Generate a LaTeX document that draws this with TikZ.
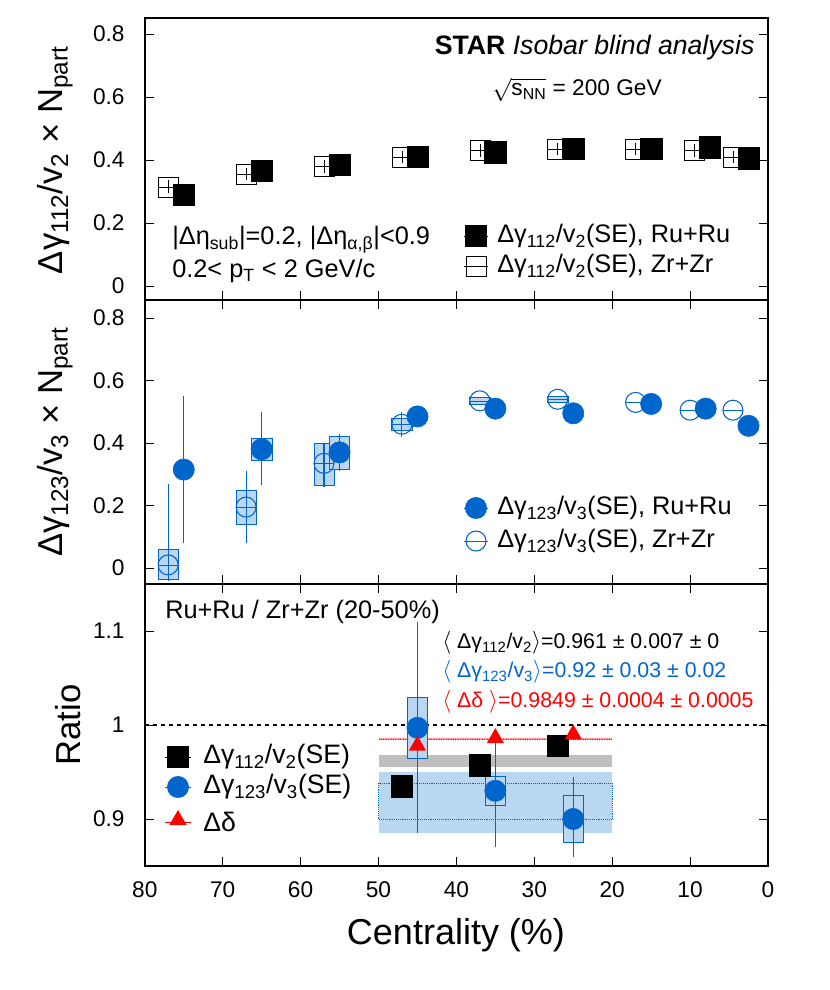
\documentclass[tikz,border=0pt]{standalone}
\usepackage{fontspec}
\setmainfont{Liberation Sans}
\definecolor{starblue}{RGB}{0,102,204}
\definecolor{boxblue}{RGB}{185,215,240}
\tikzset{
  rusq/.style={fill=black,draw=black,minimum size=16pt,inner sep=0pt},
  zrsq/.style={fill=white,draw=black,minimum size=15pt,inner sep=0pt,thin},
  rucirc/.style={circle,fill=starblue,draw=starblue,minimum size=16pt,inner sep=0pt},
  zrcirc/.style={circle,fill=none,draw=starblue,thick,minimum size=15pt,inner sep=0pt},
  redtri/.style={regular polygon,regular polygon sides=3,fill=red,minimum size=15pt,inner sep=0pt},
  sysbox/.style={fill=boxblue,draw=starblue,thin},
  tick/.style={font=\fontsize{17}{17}\selectfont},
  lab/.style={font=\fontsize{19}{19}\selectfont,anchor=west,inner sep=0pt}
}
\usetikzlibrary{shapes.geometric}
\begin{document}
\begin{tikzpicture}[x=0.75pt,y=-0.75pt]
\useasboundingbox (0,0) rectangle (830,990);
% frames
\draw[line width=1pt] (145,18) rectangle (768,866);
\draw[line width=1pt] (145,300) -- (768,300);
\draw[line width=1pt] (145,584) -- (768,584);
% x ticks on each panel
\foreach \c in {10,20,...,70} {
  \foreach \yb in {300,584,866} \draw (768-7.79*\c,\yb) -- ++(0,-9);
  \foreach \yt in {300,584} \draw (768-7.79*\c,\yt) -- ++(0,9);
}
\foreach \c [count=\i] in {80,70,...,0}
  \node[tick] (xl\i) at (768-7.79*\c,890) {\c};
\node[font=\fontsize{27}{27}\selectfont] (xtitle) at (456,935) {Centrality (\%)};

% ---------- top panel
\begin{scope}[shift={(768,286)},x={(-7.79,0)},y={(0,-315)}]
  \foreach \v [count=\i] in {0,0.2,0.4,0.6,0.8} {
    \draw (80,\v) -- ++(-1.2,0) (0,\v) -- ++(1.2,0);
    \node[tick,anchor=east] (ya\i) at (82,\v) {\v};
  }
  \foreach \c/\v [count=\i] in {77/0.315,67/0.355,57/0.38,47/0.41,37/0.43,27/0.435,17/0.435,9.5/0.43,4.5/0.41} {
    \node[zrsq] (zra\i) at (\c,\v) {};
    \draw (\c+1.3,\v) -- (\c-1.3,\v) (\c,\v-0.02) -- (\c,\v+0.02);
  }
  \foreach \c/\v [count=\i] in {75/0.29,65/0.365,55/0.385,45/0.41,35/0.425,25/0.435,15/0.435,7.5/0.44,2.5/0.405}
    \node[rusq] (rua\i) at (\c,\v) {};
\end{scope}
\node[anchor=east,font=\fontsize{20}{20}\selectfont,inner sep=1pt] (star) at (756,48) {\textbf{STAR} \textit{Isobar blind analysis}};
\node[font=\fontsize{17}{17}\selectfont,inner sep=1pt] (energy) at (577,90) {$\sqrt{\mbox{s\textsubscript{NN}}}$ = 200 GeV};
\node[lab] (cuts) at (172,240) {|Δη\textsubscript{sub}|=0.2, |Δη\textsubscript{α,β}|<0.9};
\node[lab] (ptcut) at (172,271) {0.2< p\textsubscript{T} < 2 GeV/c};
\node[rusq] (lgrua) at (476,236) {};
\draw (464,236) -- (488,236);
\node[lab] (lgruat) at (497,236) {Δγ\textsubscript{112}/v\textsubscript{2}(SE), Ru+Ru};
\node[zrsq] (lgzra) at (476,266) {};
\draw (464,266) -- (488,266);
\node[lab] (lgzrat) at (497,266) {Δγ\textsubscript{112}/v\textsubscript{2}(SE), Zr+Zr};
\node[rotate=90,font=\fontsize{26}{26}\selectfont] (ylabtop) at (55,160) {Δγ\textsubscript{112}/v\textsubscript{2} × N\textsubscript{part}};

% ---------- middle panel
\begin{scope}[shift={(768,568)},x={(-7.79,0)},y={(0,-312.5)}]
  \foreach \v [count=\i] in {0,0.2,0.4,0.6,0.8} {
    \draw (80,\v) -- ++(-1.2,0) (0,\v) -- ++(1.2,0);
    \node[tick,anchor=east] (yb\i) at (82,\v) {\v};
  }
  % systematic boxes
  \foreach \c/\lo/\hi in {77/-0.035/0.06,67/0.14/0.25,57/0.265/0.40,47/0.44/0.48,65/0.345/0.415,55/0.315/0.42,37/0.525/0.545,27/0.53/0.55}
    \draw[sysbox] (\c-1.3,\lo) rectangle (\c+1.3,\hi);
  % error bars
  \foreach \c/\lo/\hi in {77/-0.04/0.27,67/0.08/0.31,57/0.26/0.40,47/0.42/0.50,75/0.08/0.55,65/0.265/0.50,55/0.31/0.43,45/0.45/0.52}
    \draw[starblue,thick] (\c,\lo) -- (\c,\hi);
  \foreach \c/\v [count=\i] in {77/0.01,67/0.195,57/0.335,47/0.46,37/0.535,27/0.54,17/0.53,10/0.505,4.5/0.505} {
    \node[zrcirc] (zrb\i) at (\c,\v) {};
    \draw[starblue] (\c+1.3,\v) -- (\c-1.3,\v);
  }
  \foreach \c/\v [count=\i] in {75/0.315,65/0.38,55/0.37,45/0.485,35/0.51,25/0.495,15/0.525,8/0.51,2.5/0.455}
    \node[rucirc] (rub\i) at (\c,\v) {};
\end{scope}
\node[rucirc] (lgrub) at (476,508) {};
\draw[starblue] (464,508) -- (488,508);
\node[lab] (lgrubt) at (497,508) {Δγ\textsubscript{123}/v\textsubscript{3}(SE), Ru+Ru};
\node[zrcirc] (lgzrb) at (476,541) {};
\draw[starblue] (464,541) -- (488,541);
\node[lab] (lgzrbt) at (497,541) {Δγ\textsubscript{123}/v\textsubscript{3}(SE), Zr+Zr};
\node[rotate=90,font=\fontsize{26}{26}\selectfont] (ylabmid) at (55,442) {Δγ\textsubscript{123}/v\textsubscript{3} × N\textsubscript{part}};

% ---------- bottom panel
\begin{scope}[shift={(768,725)},x={(-7.79,0)},y={(0,-940)}]
  \foreach \v [count=\i] in {0.9,1,1.1} {
    \draw (80,\v-1) -- ++(-1.2,0) (0,\v-1) -- ++(1.2,0);
    \node[tick,anchor=east] (yc\i) at (82,\v-1) {\v};
  }
  \fill[boxblue] (50,-0.115) rectangle (20,-0.05);
  \draw[starblue,densely dotted,thin] (50,-0.1) rectangle (20,-0.062);
  \fill[black!25] (50,-0.045) rectangle (20,-0.032);
  \draw[red!40,line width=2pt] (50,-0.015) -- (20,-0.015);
  \draw[red,densely dotted,thick] (50,-0.015) -- (20,-0.015);
  \draw[dashed,line width=1.3pt] (80,0) -- (0,0);
  \foreach \c/\lo/\hi in {45/-0.035/0.03,35/-0.085/-0.055,25/-0.125/-0.075}
    \draw[sysbox] (\c-1.3,\lo) rectangle (\c+1.3,\hi);
  \foreach \c/\lo/\hi in {45/-0.115/0.11,35/-0.13/-0.015,25/-0.14/-0.055}
    \draw[starblue,thick] (\c,\lo) -- (\c,\hi);
  \foreach \c/\v [count=\i] in {47/-0.065,37/-0.043,27/-0.022} {
    \draw[thick] (\c,\v-0.01) -- (\c,\v+0.01);
    \node[rusq] (ruc\i) at (\c,\v) {};
  }
  \foreach \c/\v [count=\i] in {45/-0.003,35/-0.07,25/-0.1}
    \node[rucirc] (bluec\i) at (\c,\v) {};
  \foreach \c/\v [count=\i] in {45/-0.022,35/-0.014,25/-0.01}
    \node[redtri] (tric\i) at (\c,\v) {};
\end{scope}
\node[lab] (ratiohead) at (165,612) {Ru+Ru / Zr+Zr (20-50\%)};
\node[lab,font=\fontsize{16}{16}\selectfont] (mean112) at (442,643) {$\langle$ Δγ\textsubscript{112}/v\textsubscript{2}$\rangle$=0.961 ± 0.007 ± 0};
\node[lab,font=\fontsize{16}{16}\selectfont,text=starblue] (mean123) at (442,672) {$\langle$ Δγ\textsubscript{123}/v\textsubscript{3}$\rangle$=0.92 ± 0.03 ± 0.02};
\node[lab,font=\fontsize{16}{16}\selectfont,text=red] (meandelta) at (442,702) {$\langle$ Δδ $\rangle$=0.9849 ± 0.0004 ± 0.0005};
\node[rusq] (lgruc) at (178,757) {};
\draw (165,757) -- (191,757);
\node[lab,font=\fontsize{20}{20}\selectfont] (lgruct) at (203,757) {Δγ\textsubscript{112}/v\textsubscript{2}(SE)};
\node[rucirc] (lgbluec) at (178,787) {};
\draw[starblue] (165,787) -- (191,787);
\node[lab,font=\fontsize{20}{20}\selectfont] (lgbluect) at (203,787) {Δγ\textsubscript{123}/v\textsubscript{3}(SE)};
\node[redtri] (lgtric) at (178,820) {};
\draw[red] (165,822) -- (191,822);
\node[lab,font=\fontsize{20}{20}\selectfont] (lgtrict) at (203,822) {Δδ};
\node[rotate=90,font=\fontsize{26}{26}\selectfont] (ylabbot) at (68,725) {Ratio};
\end{tikzpicture}
\end{document}
